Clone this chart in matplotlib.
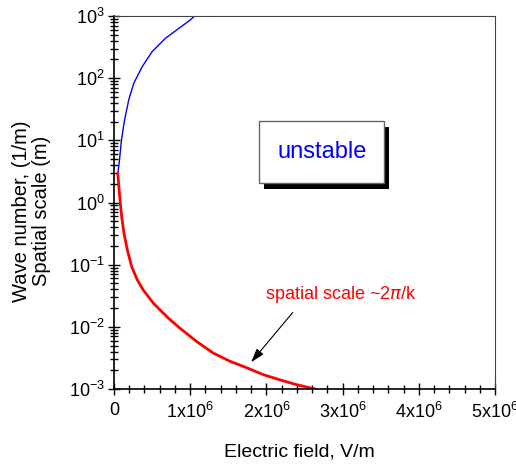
import numpy as np
import matplotlib
matplotlib.use('Agg')
import matplotlib.pyplot as plt
from matplotlib.patches import Rectangle
from matplotlib.ticker import LogLocator, MultipleLocator, NullFormatter

plt.rcParams['font.family'] = ['Liberation Sans', 'DejaVu Sans']

# blue branch (wave number), E in units of 1e6 V/m
e_blue = np.array([0.05, 0.072, 0.098, 0.138, 0.194, 0.26, 0.37, 0.50,
                   0.675, 0.85, 1.0, 1.06]) * 1e6
k_blue = [2.9, 4.8, 10.1, 21, 45, 83, 153, 267, 437, 632, 861, 1000]

# red branch (spatial scale)
e_red = np.array([0.05, 0.068, 0.079, 0.101, 0.131, 0.175, 0.232, 0.306, 0.385,
                  0.516, 0.713, 0.866, 1.085, 1.30, 1.52, 1.74, 1.96, 2.18,
                  2.40, 2.64]) * 1e6
k_red = [2.9, 1.6, 1.1, 0.59, 0.32, 0.173, 0.093, 0.057, 0.039, 0.024, 0.0138,
         0.0095, 0.0058, 0.0038, 0.0028, 0.0022, 0.0017, 0.0014, 0.00117, 0.001]

x_ticks = [0, 1e6, 2e6, 3e6, 4e6, 5e6]
x_labels = ['0'] + [r'$\mathregular{%dx10^{6}}$' % i for i in range(1, 6)]
y_ticks = [1e-3, 1e-2, 1e-1, 1e0, 1e1, 1e2, 1e3]
y_labels = [r'$\mathregular{10^{%d}}$' % p for p in range(-3, 4)]

fig = plt.figure(figsize=(5.16, 4.68), dpi=100)
ax = fig.add_axes([0.2209, 0.1688, 0.7384, 0.797])

ax.plot(e_blue, k_blue, color='#0000ff', lw=1.0)
ax.plot(e_red, k_red, color='#ff0000', lw=2.0)

ax.set_yscale('log')
ax.set_xlim(0, 5e6)
ax.set_ylim(1e-3, 1e3)

ax.set_xticks(x_ticks)
ax.set_xticklabels(x_labels)
ax.set_yticks(y_ticks)
ax.set_yticklabels(y_labels)
ax.xaxis.set_minor_locator(MultipleLocator(2e5))
ax.yaxis.set_minor_locator(LogLocator(base=10, subs=np.arange(2, 10)))
ax.yaxis.set_minor_formatter(NullFormatter())
ax.tick_params(which='both', direction='inout', top=False, right=False,
               width=1.0, labelsize=13)
ax.tick_params(which='major', length=9)
ax.tick_params(which='minor', length=6)
ax.tick_params(axis='x', pad=5)
ax.tick_params(axis='y', pad=2)

for s in ['left', 'bottom']:
    ax.spines[s].set_linewidth(1.2)
for s in ['top', 'right']:
    ax.spines[s].set_linewidth(0.8)
    ax.spines[s].set_color('#444444')

ax.set_xlabel('Electric field, V/m', fontsize=14)
ax.xaxis.set_label_coords(0.486, -0.145)
ax.set_ylabel('Wave number, (1/m)\nSpatial scale (m)', fontsize=14.5, linespacing=1.05)
ax.yaxis.set_label_coords(-0.165, 0.477)

# "unstable" box with shadow
ax.add_patch(Rectangle((0.394, 0.536), 0.328, 0.166, transform=ax.transAxes,
                       facecolor='black', edgecolor='none', zorder=4))
ax.add_patch(Rectangle((0.381, 0.552), 0.328, 0.166, transform=ax.transAxes,
                       facecolor='white', edgecolor='#666666', lw=1.0, zorder=5))
ax.text(0.547, 0.636, 'unstable', transform=ax.transAxes, color='#0000ff',
        fontsize=17, ha='center', va='center', zorder=6)

ax.text(1.98e6, 0.0327, r'spatial scale ~2$\pi$/k', color='#ff0000',
        fontsize=13, ha='left', va='center')
ax.annotate('', xy=(1.80e6, 0.0027), xytext=(2.345e6, 0.017),
            arrowprops=dict(arrowstyle='-|>,head_length=0.7,head_width=0.22',
                            color='black', lw=0.8, mutation_scale=12,
                            shrinkA=0, shrinkB=0))

fig.savefig('out.png', dpi=100)
